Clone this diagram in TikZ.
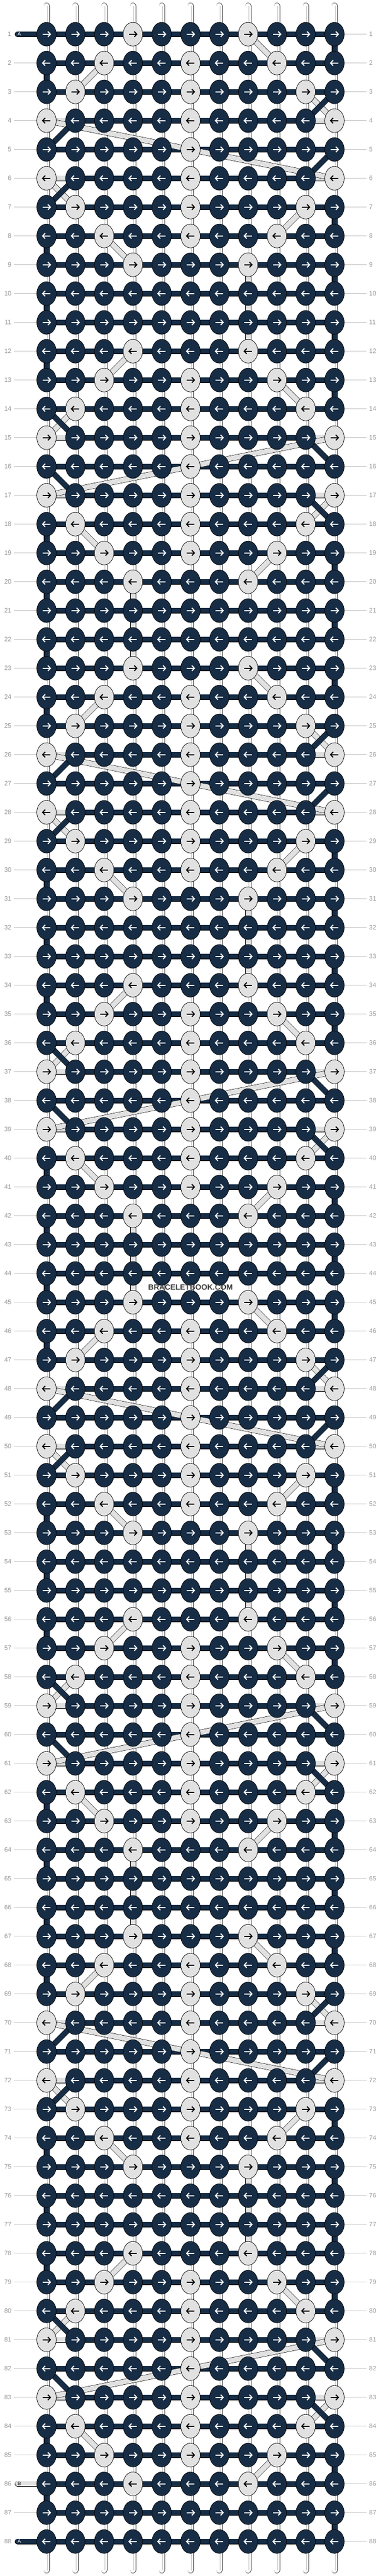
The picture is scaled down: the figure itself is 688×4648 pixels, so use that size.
\documentclass[tikz,border=0pt]{standalone}
\usepackage{fontspec}
\setmainfont{Liberation Sans}
\usetikzlibrary{shapes.geometric}
\definecolor{navy}{HTML}{172D45}
\definecolor{lite}{HTML}{E1E1E1}
\definecolor{numgray}{HTML}{999999}
\definecolor{linegray}{HTML}{C4C4C4}
\definecolor{wmgray}{HTML}{3C3C3C}
\pgfdeclarelayer{bg}
\pgfdeclarelayer{strings}
\pgfsetlayers{bg,strings,main}
\tikzset{
  knot/.style={ellipse, minimum width=35pt, minimum height=43pt, inner sep=0pt, draw=black, line width=0.7pt},
  knotA/.style={knot, fill=navy},
  knotB/.style={knot, fill=lite},
  bandA/.style={draw=black, double=navy, double distance=9pt, line width=0.6pt},
  bandB/.style={draw=black, double=lite, double distance=9pt, line width=0.6pt},
  basestr/.style={draw=black!80, double=white, double distance=9.8pt, line width=0.6pt, line cap=round},
  arrowline/.style={line width=1.9pt, line cap=butt, line join=miter},
  numlbl/.style={text=numgray, font=\fontsize{11.5}{12}\selectfont, inner sep=0pt},
  lblline/.style={draw=linegray, line width=0.9pt},
  pilltext/.style={font=\fontsize{9}{9}\selectfont, inner sep=0pt}
}
\begin{document}
\begin{tikzpicture}[x=1pt,y=-1pt]
\useasboundingbox (0,0) rectangle (688,4648);
\begin{pgfonlayer}{bg}
\fill[white] (0,0) rectangle (688,4648);
\end{pgfonlayer}
% knots
\foreach \r in {1,...,88} {
  \pgfmathtruncatemacro\ii{mod(\r-1,11)}
  \pgfmathsetmacro\yy{9.7+52*\r}
  \pgfmathtruncatemacro\odd{mod(\r,2)}
  \pgfmathtruncatemacro\mm{2+min(\ii,8-\ii)}
  \foreach \c in {1,...,11} {
    \pgfmathsetmacro\xx{32+52*\c}
    \pgfmathtruncatemacro\dd{abs(\c-6)}
    \pgfmathtruncatemacro\isb{or(and(\c==6, and(\ii>0,\ii<8)), and(\ii<9, \dd==\mm))}
    \ifnum\isb=1
      \node[knotB] (k-\r-\c) at (\xx,\yy) {};
      \def\acol{black}
    \else
      \node[knotA] (k-\r-\c) at (\xx,\yy) {};
      \def\acol{white}
    \fi
    \ifnum\odd=1 \def\sg{1}\else\def\sg{-1}\fi
    \pgfmathsetmacro\xa{\xx-7*\sg}
    \pgfmathsetmacro\xb{\xx+7*\sg}
    \pgfmathsetmacro\xw{\xx+2.4*\sg}
    \draw[arrowline, draw=\acol] (\xa,\yy) -- (\xb,\yy);
    \draw[arrowline, draw=\acol] (\xw,\yy-4.9) -- (\xb,\yy) -- (\xw,\yy+4.9);
  }
}
\begin{pgfonlayer}{strings}
% base strings
\foreach \c in {1,...,11} {
  \pgfmathsetmacro\xx{32+52*\c}
  \coordinate (top-\c) at (\xx,10.5);
  \coordinate (bot-\c) at (\xx,4637.5);
  \draw[basestr] (top-\c) -- (bot-\c);
  \draw[draw=linegray, line width=0.7pt] ([xshift=1.6pt]top-\c) -- ([xshift=1.6pt]bot-\c);
}
% horizontal bars
\foreach \r in {1,...,88} {
  \pgfmathtruncatemacro\ii{mod(\r-1,11)}
  \foreach \c in {1,...,10} {
    \pgfmathtruncatemacro\cn{\c+1}
    \pgfmathtruncatemacro\lt{and(or(\ii==3,\ii==5), or(\c==1,\c==10))}
    \ifnum\lt=1
      \draw[bandB] (k-\r-\c.center) -- (k-\r-\cn.center);
    \else
      \draw[bandA] (k-\r-\c.center) -- (k-\r-\cn.center);
    \fi
  }
}
% A string turning between rows (vertical)
\foreach \r in {1,...,87} {
  \pgfmathtruncatemacro\ii{mod(\r-1,11)}
  \pgfmathtruncatemacro\rn{\r+1}
  \pgfmathtruncatemacro\col{mod(\r,2)==1 ? 11 : 1}
  \pgfmathtruncatemacro\vrt{or(\ii<2, \ii>5)}
  \ifnum\vrt=1
    \draw[bandA] (k-\r-\col.center) -- (k-\rn-\col.center);
  \fi
}
% B string carried vertically through plain rows
\foreach \ra/\rb/\cc in {9/12/8, 20/23/4, 31/34/8, 42/45/4, 53/56/8, 64/67/4, 75/78/8} {
  \draw[bandB] (k-\ra-\cc.center) -- (k-\rb-\cc.center);
}
% diagonals
\foreach \k in {0,...,7} {
  \pgfmathtruncatemacro\s{11*\k+1}
  \pgfmathtruncatemacro\tp{mod(\k,2)}
  \ifnum\tp=0
    \foreach \ja/\ca/\cb in {0/8/9, 1/3/2, 2/10/11, 3/1/6, 4/6/11, 5/1/2, 6/10/9, 7/3/4} {
      \pgfmathtruncatemacro\ra{\s+\ja}
      \pgfmathtruncatemacro\rb{\s+\ja+1}
      \draw[bandB] (k-\ra-\ca.center) -- (k-\rb-\cb.center);
    }
    \foreach \ja/\ca/\cb in {2/11/10, 3/2/1, 4/11/10, 5/2/1} {
      \pgfmathtruncatemacro\ra{\s+\ja}
      \pgfmathtruncatemacro\rb{\s+\ja+1}
      \draw[bandA] (k-\ra-\ca.center) -- (k-\rb-\cb.center);
    }
  \else
    \foreach \ja/\ca/\cb in {0/4/3, 1/9/10, 2/2/1, 3/11/6, 4/6/1, 5/11/10, 6/2/3, 7/9/8} {
      \pgfmathtruncatemacro\ra{\s+\ja}
      \pgfmathtruncatemacro\rb{\s+\ja+1}
      \draw[bandB] (k-\ra-\ca.center) -- (k-\rb-\cb.center);
    }
    \foreach \ja/\ca/\cb in {2/1/2, 3/10/11, 4/1/2, 5/10/11} {
      \pgfmathtruncatemacro\ra{\s+\ja}
      \pgfmathtruncatemacro\rb{\s+\ja+1}
      \draw[bandA] (k-\ra-\ca.center) -- (k-\rb-\cb.center);
    }
  \fi
}
% pills (string ends)
\coordinate (pa1) at (31.7,61.7);
\coordinate (pb86) at (31.7,4481.7);
\coordinate (pa88) at (31.7,4585.7);
\draw[bandA, line cap=round] (pa1) -- (k-1-1.center);
\draw[bandB, line cap=round] (pb86) -- (k-86-1.center);
\draw[bandA, line cap=round] (pa88) -- (k-88-1.center);
\end{pgfonlayer}
\node[pilltext, text=white] (ta1) at (35,61.7) {A};
\node[pilltext, text=black] (tb86) at (35,4481.7) {B};
\node[pilltext, text=white] (ta88) at (35,4585.7) {A};
% row labels
\foreach \r in {1,...,88} {
  \pgfmathsetmacro\yy{9.7+52*\r}
  \node[numlbl, anchor=east] (nl-\r) at (20.8,\yy) {\r};
  \node[numlbl, anchor=west] (nr-\r) at (666.5,\yy) {\r};
  \coordinate (rl-\r) at (662,\yy);
  \draw[lblline] (k-\r-11.east) -- (rl-\r);
}
\foreach \r in {2,...,85,87} {
  \pgfmathsetmacro\yy{9.7+52*\r}
  \coordinate (ll-\r) at (25,\yy);
  \draw[lblline] (ll-\r) -- (k-\r-1.west);
}
\node[font=\bfseries\fontsize{13.8}{14}\selectfont, text=wmgray, inner sep=0pt] (wm) at (344,2323) {BRACELETBOOK.COM};
\end{tikzpicture}
\end{document}
